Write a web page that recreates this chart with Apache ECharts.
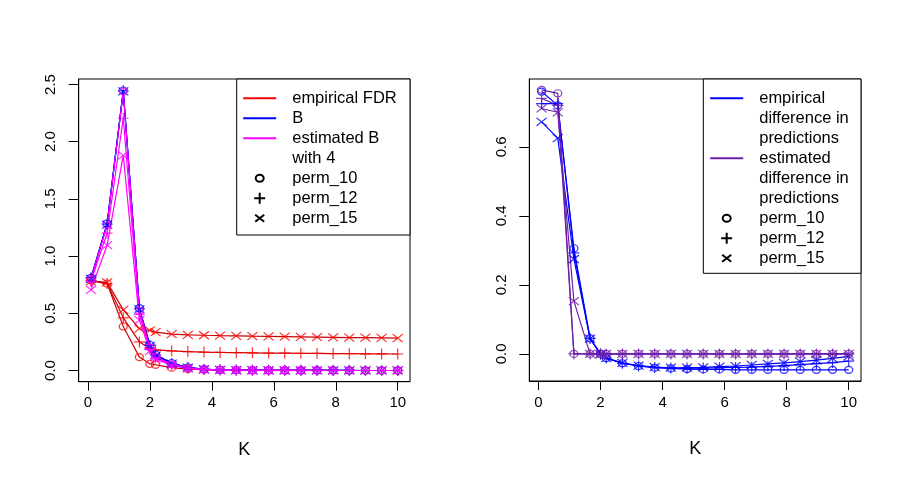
<!DOCTYPE html>
<html>
<head>
<meta charset="utf-8">
<script src="https://cdn.jsdelivr.net/npm/echarts@6/dist/echarts.min.js"></script>
<style>
  html, body { margin: 0; padding: 0; background: #fff; }
  #chart { width: 902px; height: 480px; }
</style>
</head>
<body>
<div id="chart"></div>
<script>
// K grid shared by every series
const K = [0.1, 0.621, 1.142, 1.663, 2, 2.184, 2.705, 3.226, 3.747, 4.268, 4.789,
  5.311, 5.832, 6.353, 6.874, 7.395, 7.916, 8.437, 8.958, 9.479, 10];

// left panel: empirical FDR
const fdr10 = [0.79, 0.76, 0.384, 0.117, 0.058, 0.05, 0.025, 0.012, 0.007, 0.004, 0.003,
  0.002, 0.002, 0.001, 0.001, 0.001, 0.001, 0, 0, 0, 0];
const fdr12 = [0.785, 0.76, 0.46, 0.25, 0.195, 0.18, 0.172, 0.165, 0.161, 0.158, 0.156,
  0.154, 0.152, 0.151, 0.15, 0.149, 0.148, 0.147, 0.146, 0.145, 0.144];
const fdr15 = [0.78, 0.77, 0.53, 0.365, 0.35, 0.335, 0.318, 0.312, 0.308, 0.305, 0.303,
  0.3, 0.298, 0.296, 0.294, 0.292, 0.29, 0.288, 0.287, 0.285, 0.283];
// left panel: B
const b10 = [0.81, 1.285, 2.447, 0.545, 0.225, 0.14, 0.065, 0.027, 0.012, 0.006, 0.004,
  0.003, 0.002, 0.002, 0.001, 0.001, 0.001, 0.001, 0, 0, 0];
const b12 = [0.81, 1.28, 2.445, 0.54, 0.22, 0.135, 0.062, 0.026, 0.011, 0.006, 0.004,
  0.003, 0.002, 0.002, 0.001, 0.001, 0.001, 0.001, 0, 0, 0];
const b15 = [0.8, 1.275, 2.44, 0.535, 0.215, 0.13, 0.06, 0.025, 0.011, 0.005, 0.004,
  0.003, 0.002, 0.001, 0.001, 0.001, 0.001, 0, 0, 0, 0];
// left panel: estimated B with 4
const est10 = [0.8, 1.27, 2.44, 0.52, 0.2, 0.12, 0.055, 0.022, 0.01, 0.005, 0.003,
  0.002, 0.002, 0.001, 0.001, 0.001, 0, 0, 0, 0, 0];
const est12 = [0.78, 1.2, 2.205, 0.49, 0.185, 0.11, 0.05, 0.02, 0.009, 0.004, 0.003,
  0.002, 0.001, 0.001, 0.001, 0, 0, 0, 0, 0, 0];
const est15 = [0.705, 1.095, 1.88, 0.44, 0.17, 0.1, 0.045, 0.018, 0.008, 0.004, 0.002,
  0.002, 0.001, 0.001, 0, 0, 0, 0, 0, 0, 0];

// right panel: empirical difference in predictions
const emp10 = [0.76, 0.72, 0.306, 0.045, 0, -0.012, -0.027, -0.035, -0.04, -0.042, -0.044,
  -0.045, -0.045, -0.046, -0.046, -0.046, -0.046, -0.046, -0.046, -0.046, -0.046];
const emp12 = [0.725, 0.725, 0.293, 0.045, 0, -0.012, -0.027, -0.035, -0.039, -0.041, -0.041,
  -0.041, -0.04, -0.039, -0.038, -0.036, -0.034, -0.031, -0.028, -0.025, -0.021];
const emp15 = [0.672, 0.625, 0.275, 0.044, -0.001, -0.012, -0.026, -0.034, -0.038, -0.04, -0.04,
  -0.039, -0.037, -0.035, -0.032, -0.029, -0.026, -0.022, -0.018, -0.013, -0.007];
// right panel: estimated difference in predictions
const estd10 = [0.765, 0.755, 0, 0, 0, 0, 0, 0, 0, 0, 0, 0, 0, 0, 0, 0, 0, 0, 0, 0, 0];
const estd12 = [0.74, 0.72, 0, 0, 0, 0, 0, 0, 0, 0, 0, 0, 0, 0, 0, 0, 0, 0, 0, 0, 0];
const estd15 = [0.711, 0.7, 0.153, 0, 0, 0, 0, 0, 0, 0, 0, 0, 0, 0, 0, 0, 0, 0, 0, 0, 0];

// ticks
const xTicks = [0, 2, 4, 6, 8, 10];
const yTicksLeft = [0, 0.5, 1, 1.5, 2, 2.5];
const yTicksRight = [0, 0.2, 0.4, 0.6];

// legend texts
const legendLeft = ['empirical FDR', 'B', 'estimated B', 'with 4', 'perm_10', 'perm_12', 'perm_15'];
const legendRight = ['empirical', 'difference in', 'predictions', 'estimated',
  'difference in#2', 'predictions#2', 'perm_10', 'perm_12', 'perm_15'];

const FONT = 'Liberation Sans';
const RED = '#ff0000', RED_LINE = '#cc0000', BLUE = '#0000ff', MAGENTA = '#ff00ff', PURPLE = '#6e1fa8';

// R-like point shapes
const PCH = {
  circle: { symbol: 'path://M10,5A5,5,0,1,1,0,5A5,5,0,1,1,10,5Z', size: [8, 7] },
  plus: { symbol: 'path://M5,0L5,10M0,5L10,5', size: [11, 11] },
  cross: { symbol: 'path://M0,0L10,10M0,10L10,0', size: [10, 8] }
};

// legend icons, each drawn inside a 44x12 box
const BOX = 'M0,0M44,12';
const ICON = {
  line: 'path://' + BOX + 'M0,6L33,6',
  circle: 'path://' + BOX + 'M20.5,6A4,3.5,0,1,1,12.5,6A4,3.5,0,1,1,20.5,6Z',
  plus: 'path://' + BOX + 'M16.5,0.5L16.5,11.5M11,6L22,6',
  cross: 'path://' + BOX + 'M12,2.5L21,9.5M12,9.5L21,2.5'
};

const makeSeries = (name, values, color, lineColor, pch, grid) => ({
  type: 'line',
  name: name,
  xAxisIndex: grid,
  yAxisIndex: grid,
  data: K.map((k, i) => [k, values[i]]),
  symbol: PCH[pch].symbol,
  symbolSize: PCH[pch].size,
  symbolKeepAspect: false,
  showAllSymbol: true,
  silent: true,
  lineStyle: { color: lineColor, width: 1.2 },
  itemStyle: { color: 'transparent', borderColor: color, borderWidth: 1.2, opacity: 0.8 },
  emphasis: { disabled: true }
});

const dummy = (name) => ({ type: 'line', name: name, data: [], xAxisIndex: 0, yAxisIndex: 0 });

const legendItem = (name, icon, color) => ({
  name: name,
  icon: icon ? ICON[icon] : 'none',
  itemStyle: { color: 'none', borderColor: color || '#000', borderWidth: 2, opacity: 1 }
});

const axisCommon = {
  type: 'value',
  splitLine: { show: false },
  axisLine: { show: true, onZero: false, lineStyle: { color: '#000', width: 1 } },
  axisTick: { show: true, length: 9, lineStyle: { color: '#000', width: 1 } },
  axisLabel: { color: '#000', fontFamily: FONT, fontSize: 15 }
};

const xAxisFor = (gridIndex) => Object.assign({}, axisCommon, {
  gridIndex: gridIndex,
  min: -0.296,
  max: 10.396,
  axisTick: Object.assign({}, axisCommon.axisTick, { customValues: xTicks }),
  axisLabel: Object.assign({}, axisCommon.axisLabel, { customValues: xTicks, margin: 14 }),
  name: 'K',
  nameLocation: 'middle',
  nameGap: 59,
  nameTextStyle: { color: '#000', fontFamily: FONT, fontSize: 18 }
});

const yAxisFor = (gridIndex, min, max, ticks) => Object.assign({}, axisCommon, {
  gridIndex: gridIndex,
  min: min,
  max: max,
  axisTick: Object.assign({}, axisCommon.axisTick, { customValues: ticks, length: 10 }),
  axisLabel: Object.assign({}, axisCommon.axisLabel, {
    customValues: ticks, rotate: 90, margin: 20,
    formatter: (v) => v.toFixed(1)
  })
});

const legendCommon = {
  orient: 'vertical',
  padding: 0,
  itemGap: 0,
  itemWidth: 44,
  itemHeight: 12,
  selectedMode: false,
  z: 20,
  formatter: (name) => name.split('#')[0],
  textStyle: { color: '#000', fontFamily: FONT, fontSize: 16.5, lineHeight: 20 }
};

const option = {
  animation: false,
  backgroundColor: '#fff',
  grid: [
    { left: 78.7, top: 79, width: 331.3, height: 302.7, show: true, borderColor: '#000', borderWidth: 1 },
    { left: 529.3, top: 79, width: 331.7, height: 302, show: true, borderColor: '#000', borderWidth: 1 }
  ],
  xAxis: [xAxisFor(0), xAxisFor(1)],
  yAxis: [
    yAxisFor(0, -0.098, 2.548, yTicksLeft),
    yAxisFor(1, -0.0784, 0.7964, yTicksRight)
  ],
  graphic: [
    { type: 'rect', z: 10, shape: { x: 236.7, y: 79, width: 173.3, height: 156 },
      style: { fill: '#fff', stroke: '#000', lineWidth: 1 } },
    { type: 'rect', z: 10, shape: { x: 703.3, y: 79, width: 157.7, height: 194.3 },
      style: { fill: '#fff', stroke: '#000', lineWidth: 1 } }
  ],
  legend: [
    Object.assign({}, legendCommon, {
      left: 240.7, top: 88.3,
      data: [
        legendItem(legendLeft[0], 'line', RED),
        legendItem(legendLeft[1], 'line', BLUE),
        legendItem(legendLeft[2], 'line', MAGENTA),
        legendItem(legendLeft[3], null),
        legendItem(legendLeft[4], 'circle'),
        legendItem(legendLeft[5], 'plus'),
        legendItem(legendLeft[6], 'cross')
      ]
    }),
    Object.assign({}, legendCommon, {
      left: 707.7, top: 88.3,
      data: [
        legendItem(legendRight[0], 'line', BLUE),
        legendItem(legendRight[1], null),
        legendItem(legendRight[2], null),
        legendItem(legendRight[3], 'line', PURPLE),
        legendItem(legendRight[4], null),
        legendItem(legendRight[5], null),
        legendItem(legendRight[6], 'circle'),
        legendItem(legendRight[7], 'plus'),
        legendItem(legendRight[8], 'cross')
      ]
    })
  ],
  series: [
    makeSeries('empirical FDR perm_10', fdr10, RED, RED_LINE, 'circle', 0),
    makeSeries('empirical FDR perm_12', fdr12, RED, RED_LINE, 'plus', 0),
    makeSeries('empirical FDR perm_15', fdr15, RED, RED_LINE, 'cross', 0),
    makeSeries('B perm_10', b10, BLUE, BLUE, 'circle', 0),
    makeSeries('B perm_12', b12, BLUE, BLUE, 'plus', 0),
    makeSeries('B perm_15', b15, BLUE, BLUE, 'cross', 0),
    makeSeries('estimated B perm_10', est10, MAGENTA, MAGENTA, 'circle', 0),
    makeSeries('estimated B perm_12', est12, MAGENTA, MAGENTA, 'plus', 0),
    makeSeries('estimated B perm_15', est15, MAGENTA, MAGENTA, 'cross', 0),
    makeSeries('empirical difference perm_10', emp10, BLUE, BLUE, 'circle', 1),
    makeSeries('empirical difference perm_12', emp12, BLUE, BLUE, 'plus', 1),
    makeSeries('empirical difference perm_15', emp15, BLUE, BLUE, 'cross', 1),
    makeSeries('estimated difference perm_10', estd10, PURPLE, PURPLE, 'circle', 1),
    makeSeries('estimated difference perm_12', estd12, PURPLE, PURPLE, 'plus', 1),
    makeSeries('estimated difference perm_15', estd15, PURPLE, PURPLE, 'cross', 1)
  ].concat(
    Array.from(new Set(legendLeft.concat(legendRight))).map(dummy)
  )
};

const chart = echarts.init(document.getElementById('chart'));
chart.setOption(option);
</script>
</body>
</html>
